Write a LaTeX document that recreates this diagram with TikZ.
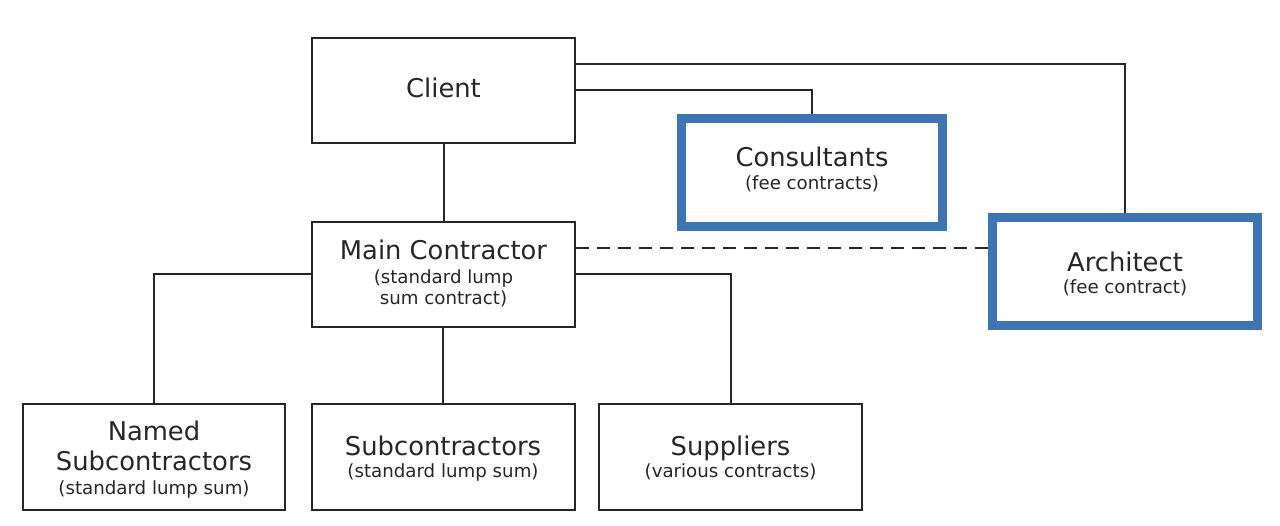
\documentclass[tikz,border=0pt]{standalone}
\usepackage{fontspec}
\setmainfont{DejaVu Sans}
\definecolor{boxblue}{HTML}{3E74B2}
\definecolor{ink}{HTML}{262626}
\begin{document}
\begin{tikzpicture}[x=1pt,y=-1pt,
  plainbox/.style={draw=ink,line width=2pt,fill=white,rectangle,inner sep=0pt},
  bluebox/.style={draw=boxblue,line width=9.5pt,fill=white,rectangle,inner sep=0pt},
  bigtxt/.style={anchor=base,inner sep=0pt,text=ink,font=\fontsize{25.8}{27}\selectfont},
  smalltxt/.style={anchor=base,inner sep=0pt,text=ink,font=\fontsize{18.2}{20}\selectfont},
  link/.style={draw=ink,line width=2pt},
  dashlink/.style={draw=ink,line width=2pt,dash pattern=on 13pt off 8pt}]
\useasboundingbox[fill=white] (0,0) rectangle (1280,526);

% boxes
\node[plainbox,minimum width=263pt,minimum height=105pt] (client) at (443.5,90.5) {};
\node[bluebox,minimum width=261pt,minimum height=108pt] (cons) at (812,172.5) {};
\node[bluebox,minimum width=265pt,minimum height=108pt] (arch) at (1125,271.5) {};
\node[plainbox,minimum width=263pt,minimum height=105pt] (main) at (443.5,274.5) {};
\node[plainbox,minimum width=262pt,minimum height=106pt] (named) at (154,457) {};
\node[plainbox,minimum width=263pt,minimum height=106pt] (sub) at (443,457) {};
\node[plainbox,minimum width=263pt,minimum height=106pt] (sup) at (730.5,457) {};

% texts
\node[bigtxt] (clientT) at (443.5,98) {Client};
\node[bigtxt] (consT) at (812,167) {Consultants};
\node[smalltxt] (consS) at (812,190) {(fee contracts)};
\node[bigtxt] (archT) at (1125,272) {Architect};
\node[smalltxt] (archS) at (1125,294) {(fee contract)};
\node[bigtxt] (mainT) at (443.5,260) {Main Contractor};
\node[smalltxt] (mainS1) at (443.5,284) {(standard lump};
\node[smalltxt] (mainS2) at (443.5,305) {sum contract)};
\node[bigtxt] (namedT1) at (154,440) {Named};
\node[bigtxt] (namedT2) at (154,470) {Subcontractors};
\node[smalltxt] (namedS) at (154,494) {(standard lump sum)};
\node[bigtxt] (subT) at (443,455) {Subcontractors};
\node[smalltxt] (subS) at (443,477) {(standard lump sum)};
\node[bigtxt] (supT) at (730.5,455) {Suppliers};
\node[smalltxt] (supS) at (730.5,477) {(various contracts)};

% connectors
\path[link] (client.south) -- (main.north);
\path[link] (client.east |- 0,64) -| (arch.north);
\path[link] (client.east |- 0,90) -| (cons.north);
\path[dashlink] (main.east |- 0,248) -- (arch.west |- 0,248);
\path[link] (main.east |- 0,274) -| (sup.north);
\path[link] (main.west |- 0,274) -| (named.north);
\path[link] (main.south -| sub.north) -- (sub.north);
\end{tikzpicture}
\end{document}
